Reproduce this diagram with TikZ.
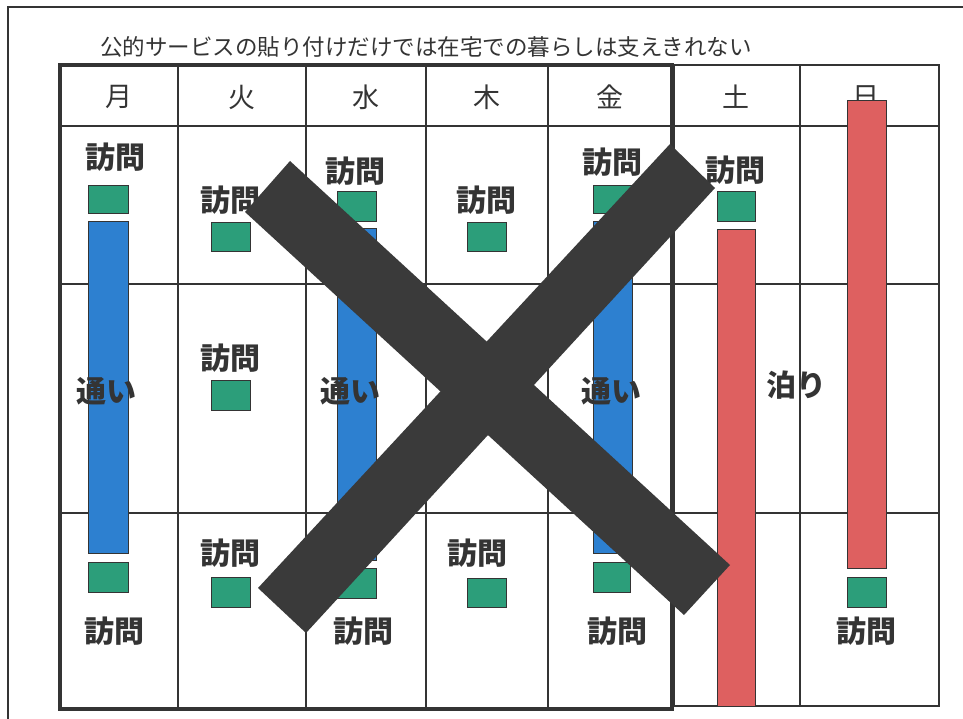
\documentclass[tikz,border=0pt]{standalone}
\usepackage{fontspec}
\setmainfont{Noto Sans CJK JP}
\definecolor{ink}{RGB}{52,52,52}
\definecolor{grn}{RGB}{44,158,122}
\definecolor{blu}{RGB}{45,128,208}
\definecolor{rd}{RGB}{222,96,96}
\definecolor{xcol}{RGB}{58,58,58}
\tikzset{
  grid/.style={draw=ink, line width=1.4pt},
  frame/.style={draw=ink, line width=3.2pt},
  gbox/.style={fill=grn, draw=ink, line width=1pt},
  bbar/.style={fill=blu, draw=ink, line width=1pt},
  rbar/.style={fill=rd, draw=ink, line width=1pt},
  xbar/.style={fill=xcol},
  lbl/.style={text=ink, font=\fontsize{30}{30}\selectfont\bfseries, inner sep=0pt},
  hdr/.style={text=ink, font=\fontsize{27}{27}\selectfont, inner sep=0pt},
  ttl/.style={text=ink, font=\fontsize{22.5}{22.5}\selectfont, inner sep=0pt},
}
\begin{document}
\begin{tikzpicture}[x=1pt,y=-1pt]
\useasboundingbox (0,0) rectangle (963,719);
\fill[white] (0,0) rectangle (963,719);
% outer frame
\draw[draw=ink, line width=2pt] (8,730) -- (8,7) -- (975,7);
% title
\node[ttl] (title) at (426,47) {公的サービスの貼り付けだけでは在宅での暮らしは支えきれない};
% grid lines
\draw[grid] (60,126) -- (939,126);
\draw[grid] (60,284) -- (939,284);
\draw[grid] (60,513) -- (939,513);
\foreach \cx in {178,306,426,548} \draw[grid] (\cx,65) -- (\cx,709);
\draw[grid] (800,65) -- (800,706);
% frames
\draw[frame] (60,65) rectangle (672,709);
\draw[draw=ink, line width=2.8pt] (674,65) rectangle (939,706);
% headers
\node[hdr] (hmon) at (119,97) {月};
\node[hdr] (htue) at (242,97) {火};
\node[hdr] (hwed) at (366,97) {水};
\node[hdr] (hthu) at (487,97) {木};
\node[hdr] (hfri) at (610,97) {金};
\node[hdr] (hsat) at (736,97) {土};
\node[hdr] (hsun) at (866,97) {日};
% Monday
\node[lbl] (mon1) at (115,157) {訪問};
\path[gbox] (88,186) rectangle (128,214);
\path[bbar] (88,222) rectangle (128,553);
\node[lbl] (monk) at (106,391) {通い};
\path[gbox] (88,562) rectangle (128,592);
\node[lbl] (mon2) at (114,631) {訪問};
% Tuesday
\node[lbl] (tue1) at (230,200) {訪問};
\path[gbox] (211,223) rectangle (250,252);
\node[lbl] (tue2) at (230,358) {訪問};
\path[gbox] (211,380) rectangle (250,410);
\node[lbl] (tue3) at (230,553) {訪問};
\path[gbox] (211,577) rectangle (250,607);
% Wednesday
\node[lbl] (wed1) at (355,171) {訪問};
\path[gbox] (337,192) rectangle (376,222);
\path[bbar] (337,229) rectangle (376,560);
\node[lbl] (wedk) at (350,391) {通い};
\path[gbox] (337,568) rectangle (376,598);
\node[lbl] (wed2) at (363,631) {訪問};
% Thursday
\node[lbl] (thu1) at (486,200) {訪問};
\path[gbox] (467,223) rectangle (506,252);
\node[lbl] (thu2) at (477,553) {訪問};
\path[gbox] (467,578) rectangle (506,607);
% Friday
\node[lbl] (fri1) at (612,162) {訪問};
\path[gbox] (593,186) rectangle (632,214);
\path[bbar] (593,222) rectangle (632,553);
\node[lbl] (frik) at (611,391) {通い};
\path[gbox] (593,562) rectangle (630,592);
\node[lbl] (fri2) at (617,631) {訪問};
% Saturday
\node[lbl] (sat1) at (735,170) {訪問};
\path[gbox] (717,192) rectangle (755,222);
\path[rbar] (717,230) rectangle (755,706);
\node[lbl] (sato) at (796,385) {泊り};
% Sunday
\path[rbar] (847,101) rectangle (886,568);
\path[gbox] (847,577) rectangle (886,607);
\node[lbl] (sun1) at (866,631) {訪問};
% big X
\fill[xbar] (245,212) -- (290,161) -- (730,565) -- (684,615) -- cycle;
\fill[xbar] (258,588) -- (306,633) -- (715,188) -- (670,144) -- cycle;
\end{tikzpicture}
\end{document}
